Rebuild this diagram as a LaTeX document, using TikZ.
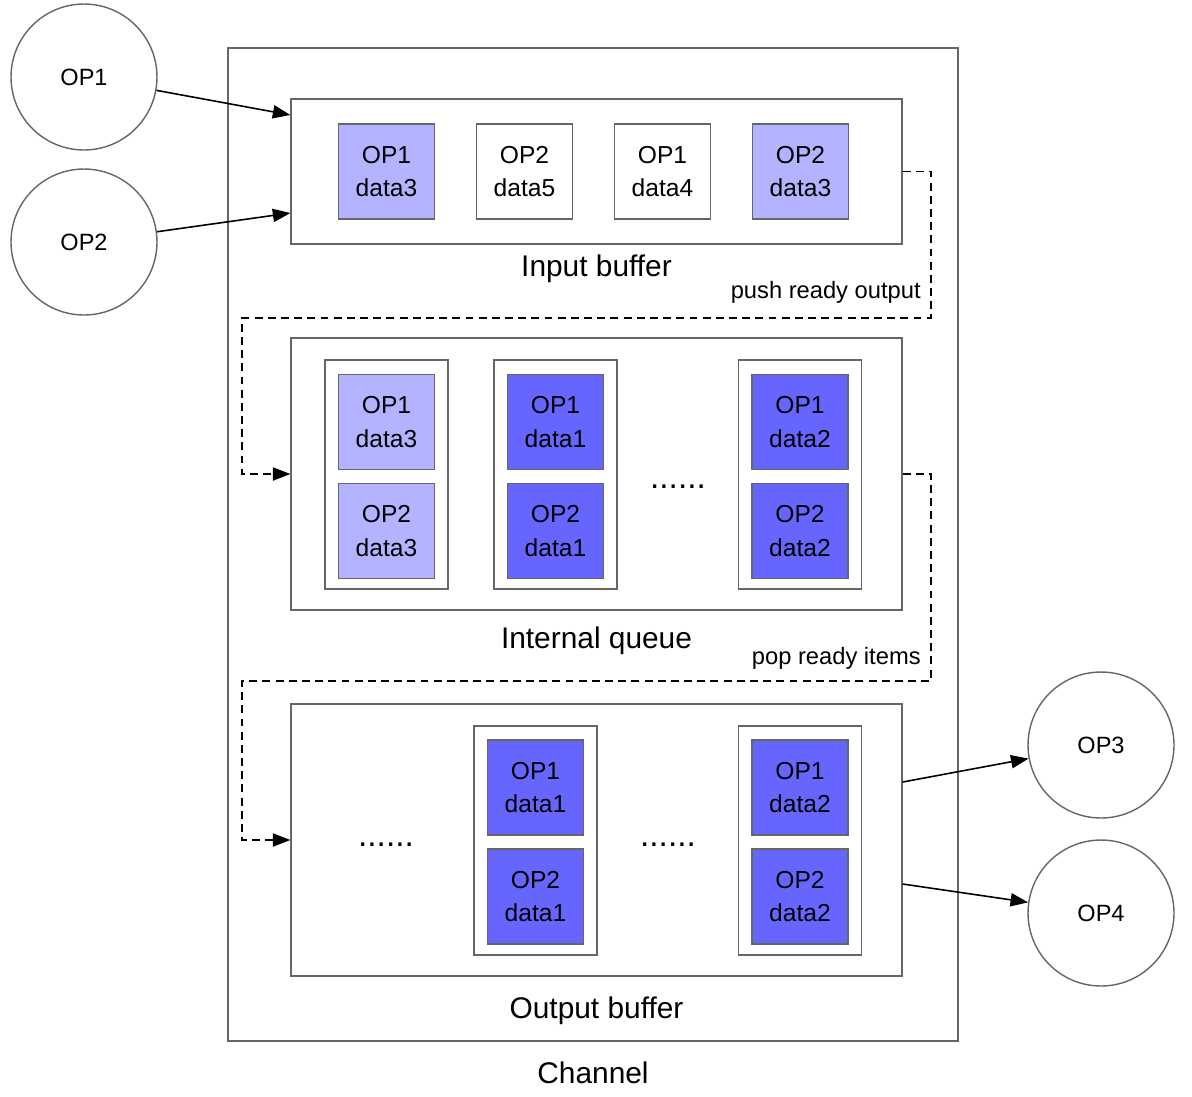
\documentclass[tikz,border=0pt]{standalone}
\usepackage{fontspec}
\setmainfont{Liberation Sans}
\usetikzlibrary{arrows.meta}
\definecolor{lightop}{HTML}{B3B3FF}
\definecolor{darkop}{HTML}{6666FF}
\definecolor{edgegray}{HTML}{666666}

\begin{document}
\begin{tikzpicture}[x=0.02cm, y=-0.02cm,
  box/.style={draw=edgegray, line width=0.75pt, inner sep=0pt},
  item/.style={box, minimum width=1.92cm, minimum height=1.9cm, align=center,
    font=\fontsize{14}{19}\selectfont},
  group/.style={box, fill=white, minimum width=2.46cm, minimum height=4.58cm},
  buffer/.style={box, fill=white, minimum width=12.22cm},
  op/.style={circle, draw=edgegray, line width=0.8pt, minimum size=2.92cm,
    inner sep=0pt, font=\fontsize{13.4}{16}\selectfont},
  lbl/.style={font=\fontsize{17}{20}\selectfont, inner sep=0pt},
  note/.style={font=\fontsize{13.5}{16}\selectfont, inner sep=0pt},
  dots/.style={font=\fontsize{19}{20}\selectfont, inner sep=0pt},
  flow/.style={-{Triangle[length=10pt,width=7.5pt]}, line width=0.9pt},
  dflow/.style={flow, dash pattern=on 4.5pt off 3pt}]
  \useasboundingbox (0,0) rectangle (1192,1096);

  % Channel
  \node[box, minimum width=14.6cm, minimum height=19.86cm] (chan) at (593,544.5) {};
  \node[lbl] (chanlbl) at (593,1073) {Channel};

  % Input buffer
  \node[buffer, minimum height=2.9cm] (ib) at (596.5,171.5) {};
  \node[lbl] (iblbl) at (596.5,269) {Input buffer};
  \foreach \x/\o/\d/\c [count=\i] in {386.5/1/3/lightop, 524.5/2/5/white,
      662.5/1/4/white, 800.5/2/3/lightop}
    \node[item, fill=\c] (ib\i) at (\x,171.5) {OP\o\\data\d};

  % Internal queue
  \node[buffer, minimum height=5.44cm] (iq) at (596.5,474) {};
  \node[lbl] (iqlbl) at (596.5,641) {Internal queue};
  \foreach \x/\d/\c [count=\i] in {386.5/3/lightop, 555.5/1/darkop, 800/2/darkop} {
    \node[group] (iqg\i) at (\x,474.5) {};
    \node[item, fill=\c] (iqa\i) at (\x,422) {OP1\\data\d};
    \node[item, fill=\c] (iqb\i) at (\x,531) {OP2\\data\d};
  }
  \node[dots] (iqdots) at (678,487) {......};

  % Output buffer
  \node[buffer, minimum height=5.44cm] (ob) at (596.5,840) {};
  \node[lbl] (oblbl) at (596.5,1011) {Output buffer};
  \foreach \x/\d [count=\i] in {535.5/1, 800/2} {
    \node[group] (obg\i) at (\x,840.5) {};
    \node[item, fill=darkop] (oba\i) at (\x,787.5) {OP1\\data\d};
    \node[item, fill=darkop] (obb\i) at (\x,896.5) {OP2\\data\d};
  }
  \node[dots] (obdots1) at (386,845) {......};
  \node[dots] (obdots2) at (668,845) {......};

  % Operators
  \node[op] (op1) at (84,77) {OP1};
  \node[op] (op2) at (84,242) {OP2};
  \node[op] (op3) at (1101,745) {OP3};
  \node[op] (op4) at (1101,913) {OP4};

  % Connections
  \draw[flow] (op1) -- ([yshift=1.13cm]ib.west);
  \draw[flow] (op2) -- ([yshift=-0.83cm]ib.west);
  \draw[flow] ([yshift=1.16cm]ob.east) -- (op3);
  \draw[flow] ([yshift=-0.88cm]ob.east) -- (op4);

  % Moving data between stages
  \draw[dflow] (ib.east) -- (931,171.5) -- (931,318) -- (242,318) |- (iq.west);
  \node[note, anchor=east] (push) at (921,292) {push ready output};
  \draw[dflow] (iq.east) -- (931,474) -- (931,681) -- (242,681) |- (ob.west);
  \node[note, anchor=east] (pop) at (921,658) {pop ready items};
\end{tikzpicture}
\end{document}
